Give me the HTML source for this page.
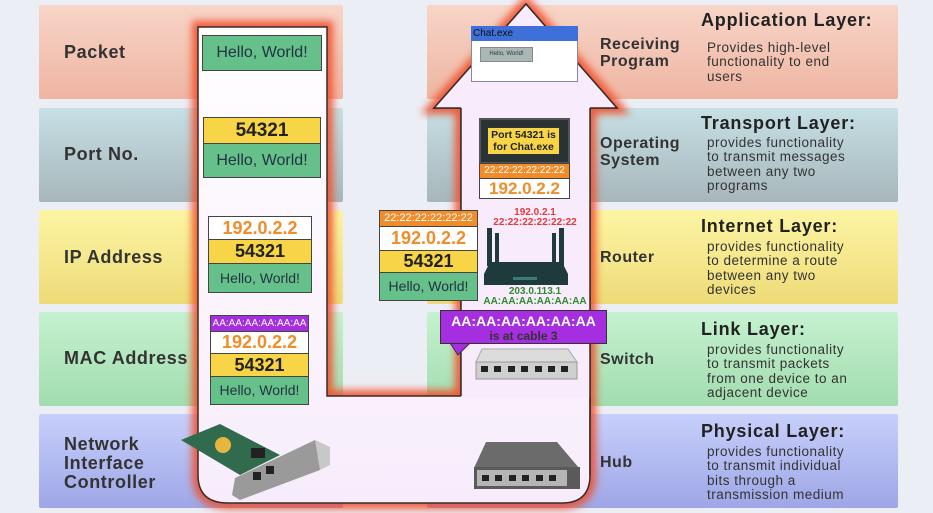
<!DOCTYPE html>
<html><head><meta charset="utf-8"><style>
*{margin:0;padding:0;box-sizing:border-box}
body{width:933px;height:513px;overflow:hidden;background:#eceef6;font-family:"Liberation Sans",sans-serif;color:#333;position:relative}
.a{position:absolute}
.band{position:absolute;border-radius:2px}
.lbl{position:absolute;font-weight:bold;font-size:18px;line-height:19px;color:#333;letter-spacing:0.6px}
.rl{position:absolute;font-weight:bold;font-size:16px;line-height:17px;color:#333;letter-spacing:0.5px}
.h{position:absolute;font-weight:bold;font-size:18px;color:#222;left:701px;letter-spacing:0.8px}
.d{position:absolute;font-size:13.5px;line-height:14.3px;color:#333;left:707px;letter-spacing:0.5px}
.bx{position:absolute;border:1px solid #444;text-align:center;white-space:nowrap;overflow:hidden}
.g{background:#66c08a;color:#234}
.y{background:#f7d546;color:#222;font-weight:bold}
.w{background:#fff;color:#f08c2a;font-weight:bold}
.o{background:#f08c2a;color:#fff;font-weight:bold}
.p{background:#a42ee0;color:#fff}
</style></head><body>
<div class="band" style="left:39px;top:5px;width:304px;height:94px;background:linear-gradient(#f7d5c8,#efb5a2)"></div>
<div class="band" style="left:39px;top:108px;width:304px;height:94px;background:linear-gradient(#c6e0e5,#a7b6ba)"></div>
<div class="band" style="left:39px;top:210px;width:304px;height:94px;background:linear-gradient(#fcf5a4,#eedb78)"></div>
<div class="band" style="left:39px;top:312px;width:304px;height:94px;background:linear-gradient(#c5f2d0,#a2dcae)"></div>
<div class="band" style="left:39px;top:414px;width:304px;height:94px;background:linear-gradient(#c7d0fb,#9ea6e6)"></div>
<div class="band" style="left:427px;top:5px;width:471px;height:94px;background:linear-gradient(#f7d5c8,#efb5a2)"></div>
<div class="band" style="left:427px;top:108px;width:471px;height:94px;background:linear-gradient(#c6e0e5,#a7b6ba)"></div>
<div class="band" style="left:427px;top:210px;width:471px;height:94px;background:linear-gradient(#fcf5a4,#eedb78)"></div>
<div class="band" style="left:427px;top:312px;width:471px;height:94px;background:linear-gradient(#c5f2d0,#a2dcae)"></div>
<div class="band" style="left:427px;top:414px;width:471px;height:94px;background:linear-gradient(#c7d0fb,#9ea6e6)"></div>

<div class="lbl" style="left:64px;top:43px">Packet</div>
<div class="lbl" style="left:64px;top:145px">Port No.</div>
<div class="lbl" style="left:64px;top:248px">IP Address</div>
<div class="lbl" style="left:64px;top:349px">MAC Address</div>
<div class="lbl" style="left:64px;top:435px">Network<br>Interface<br>Controller</div>

<svg class="a" style="left:0;top:0" width="933" height="513">
<defs>
<linearGradient id="fg" x1="0" y1="0" x2="0" y2="1"><stop offset="0" stop-color="#fff"/><stop offset="0.6" stop-color="#fbf4fd"/><stop offset="1" stop-color="#f7ecfb"/></linearGradient>
<filter id="gl" x="-10%" y="-10%" width="120%" height="120%"><feGaussianBlur stdDeviation="4"/></filter>
</defs>
<path d="M198,27 H327 V396 H461 V108 H434 L526,4 L617,108 H590 V475 Q590,503 562,503 H228 Q198,503 198,475 Z" fill="none" stroke="#f0502a" stroke-width="12" filter="url(#gl)" opacity="0.9"/>
<path d="M198,27 H327 V396 H461 V108 H434 L526,4 L617,108 H590 V475 Q590,503 562,503 H228 Q198,503 198,475 Z" fill="url(#fg)" stroke="#3a2a2a" stroke-width="1.5"/>
<rect x="461" y="108" width="129" height="290" fill="#f8ebfb"/>
<polygon points="434,108 526,5 617,108" fill="#f8ebfb"/>
<line x1="461" y1="108" x2="461" y2="396" stroke="#3a2a2a" stroke-width="1.5"/>
<line x1="590" y1="108" x2="590" y2="475" stroke="#3a2a2a" stroke-width="1.5"/>
<polyline points="461,108 434,108 526,4 617,108 590,108" fill="none" stroke="#3a2a2a" stroke-width="1.5"/>
<g fill="#1f3a3a">
<rect x="487" y="228" width="5" height="38"/><rect x="495" y="233" width="4" height="32"/>
<rect x="552" y="233" width="4" height="32"/><rect x="559" y="228" width="5" height="38"/>
<path d="M490,262 H562 L568,274 V285 H484 V274 Z"/>
</g>
<rect x="513" y="277" width="24" height="3" fill="#3a7a7a"/>
<polygon points="482,349 568,349 577,362 476,362" fill="#dcdcdc" stroke="#aaa"/>
<rect x="476" y="362" width="101" height="17" fill="#cfcfcf" stroke="#999"/>
<g fill="#222"><rect x="481" y="366" width="7" height="6"/><rect x="494" y="366" width="7" height="6"/><rect x="508" y="366" width="7" height="6"/><rect x="521" y="366" width="7" height="6"/><rect x="535" y="366" width="7" height="6"/><rect x="548" y="366" width="7" height="6"/><rect x="561" y="366" width="7" height="6"/></g>
<polygon points="486,442 557,442 579,468 474,468" fill="#6b6b6b"/>
<rect x="474" y="467" width="106" height="22" fill="#5a5a5a"/>
<rect x="477" y="470" width="90" height="16" fill="#b5b5b5"/>
<g fill="#222"><rect x="482" y="475" width="7" height="6"/><rect x="495" y="475" width="7" height="6"/><rect x="509" y="475" width="7" height="6"/><rect x="522" y="475" width="7" height="6"/><rect x="536" y="475" width="7" height="6"/><rect x="549" y="475" width="7" height="6"/></g>
<polygon points="181,440 220,424 280,455 240,475" fill="#2f6b4c"/>
<circle cx="223" cy="445" r="8" fill="#e6b640"/>
<rect x="251" y="448" width="14" height="10" fill="#222"/>
<polygon points="235,478 315,440 320,448 320,470 240,500 232,495" fill="#9a9a9a"/>
<polygon points="315,440 330,447 330,465 320,470" fill="#c8c8c8"/>
<rect x="253" y="472" width="8" height="8" fill="#222"/><rect x="266" y="466" width="8" height="8" fill="#222"/>
<polygon points="450,343 470,343 458,355" fill="#a42ee0" stroke="#333"/>
</svg>

<div class="bx g" style="left:202px;top:35px;width:120px;height:36px;font-size:16px;line-height:34px">Hello, World!</div>
<div class="bx y" style="left:203px;top:117px;width:118px;height:27px;font-size:19px;line-height:25px">54321</div>
<div class="bx g" style="left:203px;top:143px;width:118px;height:35px;font-size:16px;line-height:33px">Hello, World!</div>

<div class="bx w" style="left:208px;top:216px;width:104px;height:24px;font-size:18px;line-height:22px">192.0.2.2</div>
<div class="bx y" style="left:208px;top:239px;width:104px;height:25px;font-size:18px;line-height:23px">54321</div>
<div class="bx g" style="left:208px;top:263px;width:104px;height:30px;font-size:14px;line-height:28px">Hello, World!</div>

<div class="bx p" style="left:210px;top:315px;width:99px;height:17px;font-size:10px;line-height:15px">AA:AA:AA:AA:AA:AA</div>
<div class="bx w" style="left:210px;top:331px;width:99px;height:23px;font-size:18px;line-height:21px">192.0.2.2</div>
<div class="bx y" style="left:210px;top:353px;width:99px;height:24px;font-size:18px;line-height:22px">54321</div>
<div class="bx g" style="left:210px;top:376px;width:99px;height:29px;font-size:14px;line-height:27px">Hello, World!</div>

<div class="bx o" style="left:379px;top:210px;width:99px;height:17px;font-size:11px;line-height:15px;font-weight:normal">22:22:22:22:22:22</div>
<div class="bx w" style="left:379px;top:226px;width:99px;height:25px;font-size:18px;line-height:23px">192.0.2.2</div>
<div class="bx y" style="left:379px;top:250px;width:99px;height:23px;font-size:18px;line-height:21px">54321</div>
<div class="bx g" style="left:379px;top:272px;width:99px;height:29px;font-size:14px;line-height:27px">Hello, World!</div>

<div class="a" style="left:471px;top:26px;width:107px;height:56px;background:#fff;border:1px solid #889"></div>
<div class="a" style="left:471px;top:26px;width:107px;height:15px;background:#3f6fd8;font-size:10px;line-height:15px;padding-left:2px;color:#111">Chat.exe</div>
<div class="a" style="left:480px;top:47px;width:53px;height:15px;background:#a9b8b5;border:1px solid #888;font-size:6px;line-height:13px;text-align:center">Hello, World!</div>

<div class="a" style="left:479px;top:118px;width:91px;height:46px;background:#2a3333;border:2px solid #555"></div>
<div class="a" style="left:487px;top:127px;width:73px;height:28px;background:#f7d546;border:1px solid #333;font-size:10.5px;font-weight:bold;line-height:12px;text-align:center;padding-top:1px;color:#222">Port 54321 is<br>for Chat.exe</div>
<div class="bx o" style="left:479px;top:163px;width:91px;height:16px;font-size:10px;line-height:14px;font-weight:normal">22:22:22:22:22:22</div>
<div class="bx w" style="left:479px;top:178px;width:91px;height:21px;font-size:17px;line-height:19px">192.0.2.2</div>

<div class="a" style="left:480px;top:208px;width:110px;text-align:center;font-size:10px;font-weight:bold;line-height:10px;color:#e03a3a">192.0.2.1<br>22:22:22:22:22:22</div>
<div class="a" style="left:478px;top:287px;width:114px;text-align:center;font-size:10px;font-weight:bold;line-height:10px;color:#2f8a2f">203.0.113.1<br>AA:AA:AA:AA:AA:AA</div>

<div class="a" style="left:440px;top:310px;width:167px;height:34px;background:#a42ee0;border:1px solid #333;color:#fff;font-weight:bold;text-align:center;font-size:14px;line-height:14px;padding-top:3px">AA:AA:AA:AA:AA:AA<br><span style="color:#333;font-size:12px">is at cable 3</span></div>

<div class="rl" style="left:600px;top:36px">Receiving<br>Program</div>
<div class="rl" style="left:600px;top:135px">Operating<br>System</div>
<div class="rl" style="left:600px;top:249px">Router</div>
<div class="rl" style="left:600px;top:351px">Switch</div>
<div class="rl" style="left:600px;top:454px">Hub</div>

<div class="h" style="top:10px">Application Layer:</div>
<div class="d" style="top:41px">Provides high-level<br>functionality to end<br>users</div>
<div class="h" style="top:113px">Transport Layer:</div>
<div class="d" style="top:136px">provides functionality<br>to transmit messages<br>between any two<br>programs</div>
<div class="h" style="top:216px">Internet Layer:</div>
<div class="d" style="top:240px">provides functionality<br>to determine a route<br>between any two<br>devices</div>
<div class="h" style="top:319px">Link Layer:</div>
<div class="d" style="top:343px">provides functionality<br>to transmit packets<br>from one device to an<br>adjacent device</div>
<div class="h" style="top:421px">Physical Layer:</div>
<div class="d" style="top:445px">provides functionality<br>to transmit individual<br>bits through a<br>transmission medium</div>
</body></html>
